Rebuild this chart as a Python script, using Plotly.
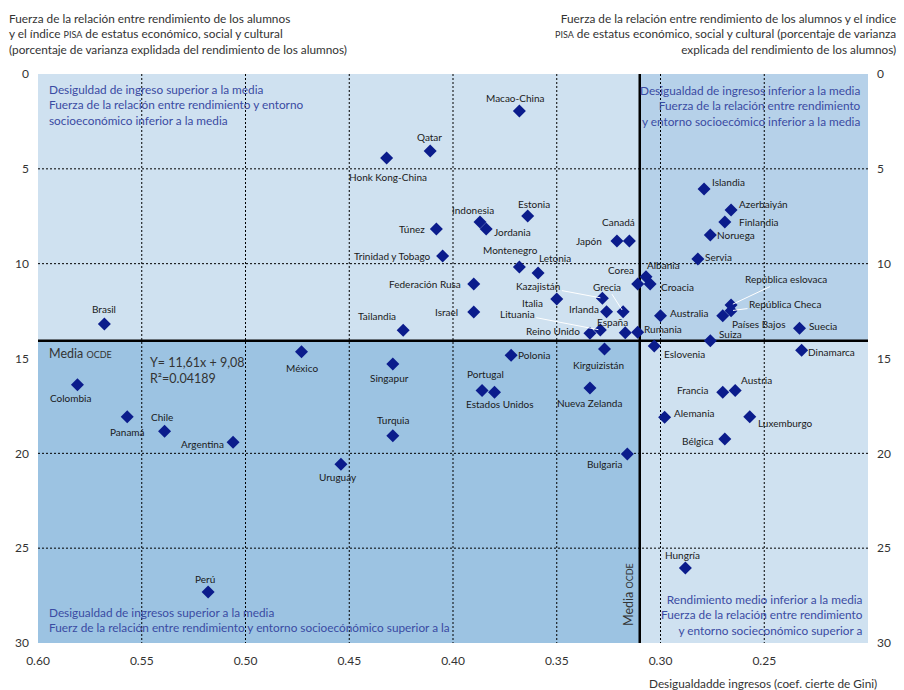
import plotly.graph_objects as go

# --- Data: income inequality (Gini) vs. strength of the socio-economic gradient ---
paises = [
    "Macao-China", "Qatar", "Honk Kong-China", "Islandia", "Azerbaiyán", "Finlandia",
    "Noruega", "Servia", "Estonia", "Túnez", "Indonesia", "Jordania", "Canadá", "Japón",
    "Trinidad y Tobago", "Montenegro", "Letonia", "Federación Rusa", "Israel", "Italia",
    "Kazajistán", "Irlanda", "Grecia", "Lituania", "Reino Unido", "España", "Rumania",
    "Corea", "Albania", "Croacia", "Australia", "Kirguizistán", "Polonia", "Eslovenia",
    "Suiza", "Dinamarca", "Suecia", "Países Bajos", "República Checa", "República eslovaca",
    "Portugal", "Estados Unidos", "Nueva Zelanda", "Francia", "Austria", "Alemania",
    "Luxemburgo", "Bélgica", "Bulgaria", "Brasil", "Tailandia", "México", "Singapur",
    "Colombia", "Panamá", "Chile", "Argentina", "Turquia", "Uruguay", "Hungría", "Perú",
]
gini = [
    0.368, 0.411, 0.432, 0.279, 0.266, 0.269,
    0.276, 0.282, 0.364, 0.408, 0.387, 0.384, 0.315, 0.321,
    0.405, 0.368, 0.359, 0.390, 0.390, 0.350,
    0.328, 0.326, 0.318, 0.329, 0.334, 0.317, 0.311,
    0.311, 0.307, 0.305, 0.300, 0.327, 0.372, 0.303,
    0.276, 0.232, 0.233, 0.270, 0.266, 0.266,
    0.386, 0.380, 0.334, 0.270, 0.264, 0.298,
    0.257, 0.269, 0.316, 0.568, 0.424, 0.473, 0.429,
    0.581, 0.557, 0.539, 0.506, 0.429, 0.454, 0.288, 0.518,
]
varianza = [
    1.95, 4.06, 4.43, 6.06, 7.17, 7.80,
    8.49, 9.75, 7.49, 8.17, 7.80, 8.17, 8.80, 8.80,
    9.59, 10.17, 10.49, 11.07, 12.55, 11.86,
    11.82, 12.53, 12.53, 13.50, 13.67, 13.64, 13.62,
    11.07, 10.69, 11.07, 12.74, 14.50, 14.83, 14.34,
    14.07, 14.57, 13.41, 12.74, 12.48, 12.18,
    16.69, 16.78, 16.55, 16.78, 16.69, 18.10,
    18.07, 19.24, 20.03, 13.18, 13.51, 14.64, 15.29,
    16.38, 18.07, 18.84, 19.41, 19.07, 20.57, 26.04, 27.31,
]

media_gini = 0.31
media_varianza = 14.07

x_ticks = [0.60, 0.55, 0.50, 0.45, 0.40, 0.35, 0.30, 0.25]
x_tick_text = ["0.60", "0.55", "0.50", "0.45", "0.40", "0.35", "0.30", "0.25"]
y_ticks = [0, 5, 10, 15, 20, 25, 30]
y_grid = [5, 10, 20, 25]

# --- Label placement (pixel offsets from each marker) ---
offsets = {
    "Macao-China": (-4, -13), "Qatar": (-1, -14), "Honk Kong-China": (1, 19),
    "Islandia": (24, -7), "Azerbaiyán": (32, -6), "Finlandia": (34, 0),
    "Noruega": (26, 0), "Servia": (21, -2), "Estonia": (6, -12), "Túnez": (-24, 0),
    "Indonesia": (-7, -12), "Jordania": (26, 3), "Canadá": (-11, -19), "Japón": (-28, 0),
    "Trinidad y Tobago": (-50, 0), "Montenegro": (-9, -17), "Letonia": (17, -15),
    "Federación Rusa": (-49, 0), "Israel": (-27, 0), "Italia": (-24, 4),
    "Irlanda": (-23, -3), "Reino Unido": (-37, -2), "España": (-13, -11),
    "Rumania": (25, -3), "Corea": (-17, -14), "Albania": (18, -12), "Croacia": (27, 3),
    "Australia": (28, -3), "Kirguizistán": (-6, 16), "Polonia": (23, 0),
    "Eslovenia": (30, 8), "Suiza": (20, -7), "Dinamarca": (30, 2), "Suecia": (23, -2),
    "Países Bajos": (36, 8), "Portugal": (3, -17), "Estados Unidos": (5, 12),
    "Nueva Zelanda": (0, 15), "Francia": (-30, -2), "Austria": (21, -11),
    "Alemania": (30, -4), "Luxemburgo": (36, 6), "Bélgica": (-27, 2),
    "Bulgaria": (-22, 10), "Brasil": (0, -15), "Tailandia": (-26, -14),
    "México": (0, 16), "Singapur": (-3, 14), "Colombia": (-6, 13), "Panamá": (0, 15),
    "Chile": (-3, -14), "Argentina": (-31, 2), "Turquia": (0, -16), "Uruguay": (-3, 13),
    "Hungría": (-3, -13), "Perú": (-3, -13),
}
# Labels joined to their marker with a thin white leader line
leaders = {
    "Kazajistán": (-64, -12), "Grecia": (-16, -25), "Lituania": (-83, -16),
    "República Checa": (54, -7), "República eslovaca": (55, -26),
}

# Plot-area geometry in pixels
W_FIG, H_FIG = 904, 690
L, R, T, B = 38, 868, 74, 643

def px(xp):
    return (xp - L) / (R - L)

def py(yp):
    return 1 - (yp - T) / (B - T)

LIGHT = "#cfe1f0"
MID = "#b6d1e9"
DARK = "#9cc3e2"
NAVY = "#0b1c8c"
QUAD_TXT = "#3a4ba3"
TXT = "#333333"
FONT = "Lato, 'Open Sans', sans-serif"
LABEL_FONT = "Lato, sans-serif"

fig = go.Figure()

fig.add_trace(go.Scatter(
    x=gini, y=varianza, mode="markers", text=paises,
    marker=dict(symbol="diamond", size=10, color=NAVY, line=dict(width=0)),
    hovertemplate="%{text}<br>%{x:.3f}, %{y:.2f}<extra></extra>",
    showlegend=False,
))
# Invisible companion trace so the right-hand axis is rendered
fig.add_trace(go.Scatter(
    x=[gini[0]], y=[varianza[0]], yaxis="y2", mode="markers",
    marker=dict(opacity=0), hoverinfo="skip", showlegend=False,
))

shapes = []
# Quadrant fills
shapes.append(dict(type="rect", xref="x", yref="y", x0=media_gini, x1=0.20, y0=0, y1=media_varianza,
                   fillcolor=MID, line=dict(width=0), layer="below"))
shapes.append(dict(type="rect", xref="x", yref="y", x0=0.60, x1=media_gini, y0=media_varianza, y1=30,
                   fillcolor=DARK, line=dict(width=0), layer="below"))
# Dotted grid
for gx in x_ticks[1:]:
    shapes.append(dict(type="line", xref="x", yref="y", x0=gx, x1=gx, y0=0, y1=30,
                       line=dict(color="black", width=1, dash="2px,2px"), layer="below"))
for gy in y_grid:
    shapes.append(dict(type="line", xref="x", yref="y", x0=0.60, x1=0.20, y0=gy, y1=gy,
                       line=dict(color="black", width=1, dash="2px,2px"), layer="below"))
# OECD averages
shapes.append(dict(type="line", xref="x", yref="y", x0=0.60, x1=0.20, y0=media_varianza, y1=media_varianza,
                   line=dict(color="black", width=2.5), layer="below"))
shapes.append(dict(type="line", xref="x", yref="y", x0=media_gini, x1=media_gini, y0=0, y1=30,
                   line=dict(color="black", width=2.5), layer="below"))

annotations = []
lab_font = dict(family=LABEL_FONT, size=10, color="#1a1a1a")
for name, gx, gy in zip(paises, gini, varianza):
    if name in leaders:
        ax, ay = leaders[name]
        annotations.append(dict(x=gx, y=gy, xref="x", yref="y", text=name, showarrow=True,
                                arrowhead=0, arrowwidth=1, arrowcolor="white", ax=ax, ay=ay,
                                standoff=2, font=lab_font))
    else:
        dx, dy = offsets.get(name, (0, -14))
        annotations.append(dict(x=gx, y=gy, xref="x", yref="y", text=name, showarrow=False,
                                xshift=dx, yshift=-dy, font=lab_font))

qfont = dict(family=FONT, size=11.8, color=QUAD_TXT)
annotations += [
    dict(xref="paper", yref="paper", x=px(47), y=py(105), xanchor="left", yanchor="middle", align="left",
         showarrow=False, font=qfont,
         text="Desiguldad de ingreso superior a la media<br>Fuerza de la relación entre rendimiento y entorno<br>socioeconómico inferior a la media"),
    dict(xref="paper", yref="paper", x=px(863), y=py(106), xanchor="right", yanchor="middle", align="right",
         showarrow=False, font=qfont,
         text="Desigualdad de ingresos inferior a la media<br>Fuerza de la relación entre rendimiento<br>y entorno socioecómico inferior a la media"),
    dict(xref="paper", yref="paper", x=px(47), y=py(619.5), xanchor="left", yanchor="middle", align="left",
         showarrow=False, font=qfont,
         text="Desigualdad de ingresos superior a la media<br>Fuerz de la relación entre rendimiento y entorno socioecónómico superior a la"),
    dict(xref="paper", yref="paper", x=px(865), y=py(615), xanchor="right", yanchor="middle", align="right",
         showarrow=False, font=qfont,
         text="Rendimiento medio inferior a la media<br>Fuerza de la relación entre rendimiento<br>y entorno socieconómico superior a"),
]

tfont = dict(family=FONT, size=11.8, color=TXT)
small = "<span style='font-size:9px'>{}</span>"
annotations += [
    dict(xref="paper", yref="paper", x=px(7), y=py(33.5), xanchor="left", yanchor="middle", align="left",
         showarrow=False, font=tfont,
         text="Fuerza de la relación entre rendimiento de los alumnos<br>y el índice " + small.format("PISA")
              + " de estatus económico, social y cultural<br>(porcentaje de varianza explidada del rendimiento de los alumnos)"),
    dict(xref="paper", yref="paper", x=px(898), y=py(34), xanchor="right", yanchor="middle", align="right",
         showarrow=False, font=tfont,
         text="Fuerza de la relación entre rendimiento de los alumnos y el índice<br>" + small.format("PISA")
              + " de estatus económico, social y cultural (porcentaje de varianza<br>explicada del rendimiento de los alumnos)"),
    dict(xref="paper", yref="paper", x=px(47), y=py(353), xanchor="left", yanchor="middle",
         showarrow=False, font=dict(family=FONT, size=12.5, color=TXT), text="Media " + small.format("OCDE")),
    dict(xref="paper", yref="paper", x=px(628), y=py(595), xanchor="center", yanchor="middle",
         textangle=-90, showarrow=False, font=dict(family=FONT, size=12.5, color=TXT),
         text="Media " + small.format("OCDE")),
    dict(xref="paper", yref="paper", x=px(148), y=py(370.5), xanchor="left", yanchor="middle", align="left",
         showarrow=False, font=dict(family=FONT, size=12.5, color=TXT), text="Y= 11,61x + 9,08<br>R²=0.04189"),
    dict(xref="paper", yref="paper", x=px(879), y=py(683), xanchor="right", yanchor="middle",
         showarrow=False, font=tfont, text="Desigualdadde ingresos (coef. cierte de Gini)"),
]

axis_font = dict(family=FONT, size=12, color=TXT)
fig.update_layout(
    width=W_FIG, height=H_FIG,
    margin=dict(l=L, r=W_FIG - R, t=T, b=H_FIG - B),
    paper_bgcolor="white", plot_bgcolor=LIGHT,
    showlegend=False,
    shapes=shapes, annotations=annotations,
    xaxis=dict(range=[0.60, 0.20], tickvals=x_ticks, ticktext=x_tick_text, showgrid=False,
               zeroline=False, showline=False, ticks="", tickfont=axis_font, ticklabelstandoff=9),
    yaxis=dict(range=[30, 0], tickvals=y_ticks, showgrid=False, zeroline=False, showline=False,
               ticks="", tickfont=axis_font, ticklabelstandoff=8),
    yaxis2=dict(range=[30, 0], tickvals=y_ticks, overlaying="y", side="right", showgrid=False,
                zeroline=False, showline=False, ticks="", tickfont=axis_font, ticklabelstandoff=8),
)

fig.write_html("out.html")
